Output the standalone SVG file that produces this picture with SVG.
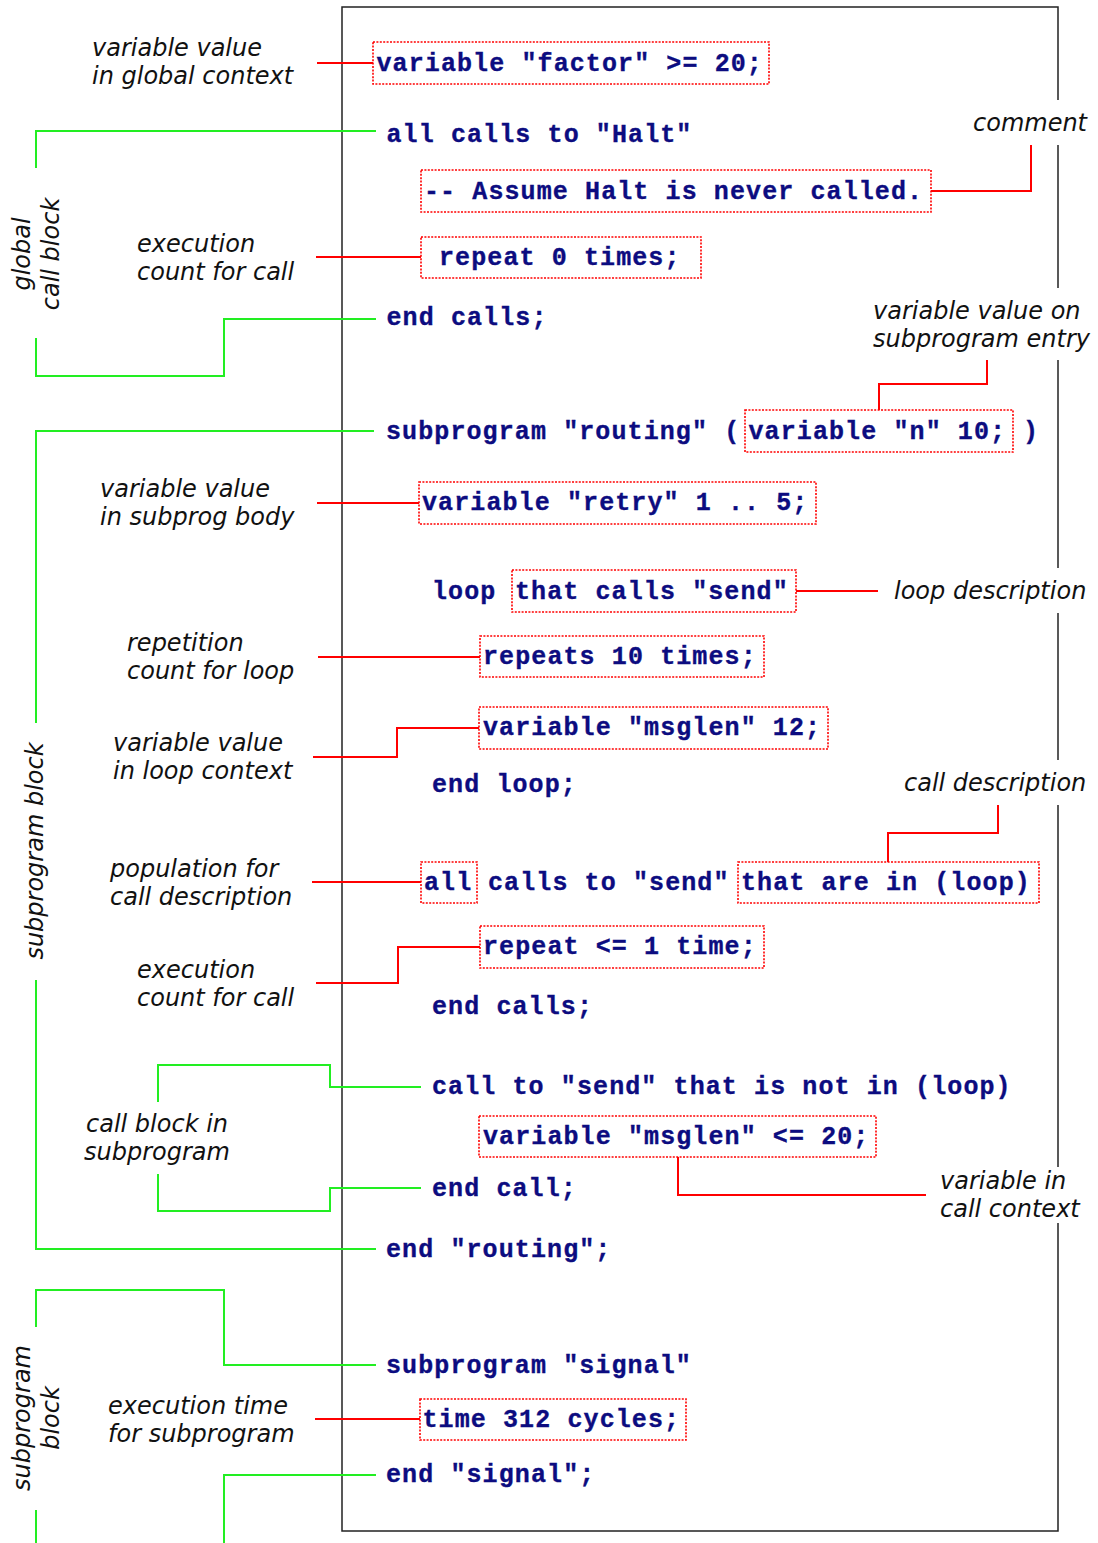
<svg xmlns="http://www.w3.org/2000/svg" width="1098" height="1543" viewBox="0 0 1098 1543">
  <style>
    .code { font-family: "Liberation Mono", "DejaVu Sans Mono", monospace; font-weight: bold; font-size: 25px; letter-spacing: 1.1px; fill: #0c0c80; stroke: #0c0c80; stroke-width: 0.35; }
    .lbl { font-family: "DejaVu Sans", "Noto Sans", sans-serif; font-style: italic; font-size: 24px; fill: #111; }
    .box { fill: none; stroke: #f00; stroke-width: 1.6; stroke-dasharray: 2 1.4; }
    .frame { fill: none; stroke: #222; stroke-width: 1.5; }
    .red { fill: none; stroke: #f00; stroke-width: 2; }
    .green { fill: none; stroke: #22ee22; stroke-width: 2; }
  </style>

  <!-- listing frame; right edge is interrupted by the margin notes -->
  <g id="frame" class="frame">
    <polyline points="1058,100 1058,7 342,7 342,1531 1058,1531 1058,1223"/>
    <line x1="1058" y1="145" x2="1058" y2="288"/>
    <line x1="1058" y1="360" x2="1058" y2="568"/>
    <line x1="1058" y1="613" x2="1058" y2="760"/>
    <line x1="1058" y1="805" x2="1058" y2="1167"/>
  </g>

  <!-- connectors: red for single items, green brackets for blocks -->
  <g id="connectors">
    <polyline class="red" points="317,63 373,63"/>
    <polyline class="red" points="931,191 1031,191 1031,145"/>
    <polyline class="red" points="316,257 421,257"/>
    <polyline class="red" points="879,410 879,384 987,384 987,360"/>
    <polyline class="red" points="317,503 419,503"/>
    <polyline class="red" points="796,591 878,591"/>
    <polyline class="red" points="318,657 480,657"/>
    <polyline class="red" points="313,757 397,757 397,728 479,728"/>
    <polyline class="red" points="888,862 888,833 998,833 998,805"/>
    <polyline class="red" points="312,882 421,882"/>
    <polyline class="red" points="316,983 398,983 398,947 480,947"/>
    <polyline class="red" points="678,1157 678,1195 926,1195"/>
    <polyline class="red" points="315,1419 420,1419"/>

    <polyline class="green" points="376,131 36,131 36,168"/>
    <polyline class="green" points="36,338 36,376 224,376 224,319 376,319"/>
    <polyline class="green" points="374,431 36,431 36,723"/>
    <polyline class="green" points="36,980 36,1249 376,1249"/>
    <polyline class="green" points="421,1087 330,1087 330,1065 158,1065 158,1102"/>
    <polyline class="green" points="158,1174 158,1211 330,1211 330,1188 421,1188"/>
    <polyline class="green" points="376,1365 224,1365 224,1290 36,1290 36,1327"/>
    <polyline class="green" points="36,1510 36,1543"/>
    <polyline class="green" points="376,1475 224,1475 224,1543"/>
  </g>

  <!-- listing lines -->
  <g id="line-factor"><rect class="box" x="373" y="42" width="396" height="42"/><text class="code" x="376.5" y="70.5">variable "factor" &gt;= 20;</text></g>
  <g id="line-calls-halt"><text class="code" x="386.5" y="141.7">all calls to "Halt"</text></g>
  <g id="line-comment"><rect class="box" x="421" y="170" width="510" height="42"/><text class="code" x="424" y="199.3">-- Assume Halt is never called.</text></g>
  <g id="line-repeat0"><rect class="box" x="421" y="237" width="280" height="41"/><text class="code" x="439" y="265">repeat 0 times;</text></g>
  <g id="line-end-calls1"><text class="code" x="386.5" y="325">end calls;</text></g>
  <g id="line-sub-routing"><text class="code" x="386" y="439.3">subprogram "routing" (</text><rect class="box" x="745" y="410" width="268" height="42"/><text class="code" x="748.5" y="439.3">variable "n" 10;</text><text class="code" x="1023" y="439.3">)</text></g>
  <g id="line-retry"><rect class="box" x="419" y="482" width="397" height="42"/><text class="code" x="422" y="510">variable "retry" 1 .. 5;</text></g>
  <g id="line-loop"><text class="code" x="432" y="599">loop</text><rect class="box" x="512" y="570" width="284" height="42"/><text class="code" x="515" y="599">that calls "send"</text></g>
  <g id="line-repeats10"><rect class="box" x="480" y="636" width="284" height="41"/><text class="code" x="483" y="664.3">repeats 10 times;</text></g>
  <g id="line-msglen12"><rect class="box" x="479" y="707" width="349" height="42"/><text class="code" x="483" y="735">variable "msglen" 12;</text></g>
  <g id="line-end-loop"><text class="code" x="432" y="791.7">end loop;</text></g>
  <g id="line-calls-send"><rect class="box" x="421" y="862" width="56" height="41"/><text class="code" x="424" y="890">all</text><text class="code" x="488" y="890">calls to "send"</text><rect class="box" x="738" y="862" width="301" height="41"/><text class="code" x="741" y="890">that are in (loop)</text></g>
  <g id="line-repeat-le1"><rect class="box" x="480" y="926" width="284" height="42"/><text class="code" x="483" y="954">repeat &lt;= 1 time;</text></g>
  <g id="line-end-calls2"><text class="code" x="432" y="1014.3">end calls;</text></g>
  <g id="line-call-send"><text class="code" x="432" y="1094.3">call to "send" that is not in (loop)</text></g>
  <g id="line-msglen20"><rect class="box" x="479" y="1116" width="397" height="41"/><text class="code" x="483" y="1144.3">variable "msglen" &lt;= 20;</text></g>
  <g id="line-end-call"><text class="code" x="432" y="1195.7">end call;</text></g>
  <g id="line-end-routing"><text class="code" x="386" y="1256.7">end "routing";</text></g>
  <g id="line-sub-signal"><text class="code" x="386" y="1372.7">subprogram "signal"</text></g>
  <g id="line-time"><rect class="box" x="420" y="1399" width="266" height="41"/><text class="code" x="422.5" y="1426.7">time 312 cycles;</text></g>
  <g id="line-end-signal"><text class="code" x="386" y="1482.3">end "signal";</text></g>

  <!-- margin notes -->
  <g id="note-global-var"><text class="lbl" x="92" y="56">variable value</text><text class="lbl" x="92" y="84">in global context</text></g>
  <g id="note-comment"><text class="lbl" x="973" y="131">comment</text></g>
  <g id="note-exec-count1"><text class="lbl" x="137" y="252">execution</text><text class="lbl" x="137" y="280">count for call</text></g>
  <g id="note-entry-var"><text class="lbl" x="873" y="319">variable value on</text><text class="lbl" x="873" y="347">subprogram entry</text></g>
  <g id="note-body-var"><text class="lbl" x="100" y="497">variable value</text><text class="lbl" x="100" y="525">in subprog body</text></g>
  <g id="note-loop-desc"><text class="lbl" x="894" y="599">loop description</text></g>
  <g id="note-loop-count"><text class="lbl" x="127" y="651">repetition</text><text class="lbl" x="127" y="679">count for loop</text></g>
  <g id="note-loop-var"><text class="lbl" x="113" y="751">variable value</text><text class="lbl" x="113" y="779">in loop context</text></g>
  <g id="note-call-desc"><text class="lbl" x="904" y="791">call description</text></g>
  <g id="note-population"><text class="lbl" x="110" y="877">population for</text><text class="lbl" x="110" y="905">call description</text></g>
  <g id="note-exec-count2"><text class="lbl" x="137" y="978">execution</text><text class="lbl" x="137" y="1006">count for call</text></g>
  <g id="note-call-block"><text class="lbl" x="86" y="1132">call block in</text><text class="lbl" x="84" y="1160">subprogram</text></g>
  <g id="note-call-var"><text class="lbl" x="940" y="1189">variable in</text><text class="lbl" x="940" y="1217">call context</text></g>
  <g id="note-exec-time"><text class="lbl" x="108" y="1414">execution time</text><text class="lbl" x="108" y="1442">for subprogram</text></g>

  <!-- vertical block labels -->
  <g id="note-global-block" text-anchor="middle">
    <text class="lbl" transform="translate(30,254) rotate(-90)">global</text>
    <text class="lbl" transform="translate(59,254) rotate(-90)">call block</text>
  </g>
  <g id="note-routing-block" text-anchor="middle">
    <text class="lbl" transform="translate(43,851) rotate(-90)">subprogram block</text>
  </g>
  <g id="note-signal-block" text-anchor="middle">
    <text class="lbl" transform="translate(30,1418) rotate(-90)">subprogram</text>
    <text class="lbl" transform="translate(59,1418) rotate(-90)">block</text>
  </g>
</svg>
